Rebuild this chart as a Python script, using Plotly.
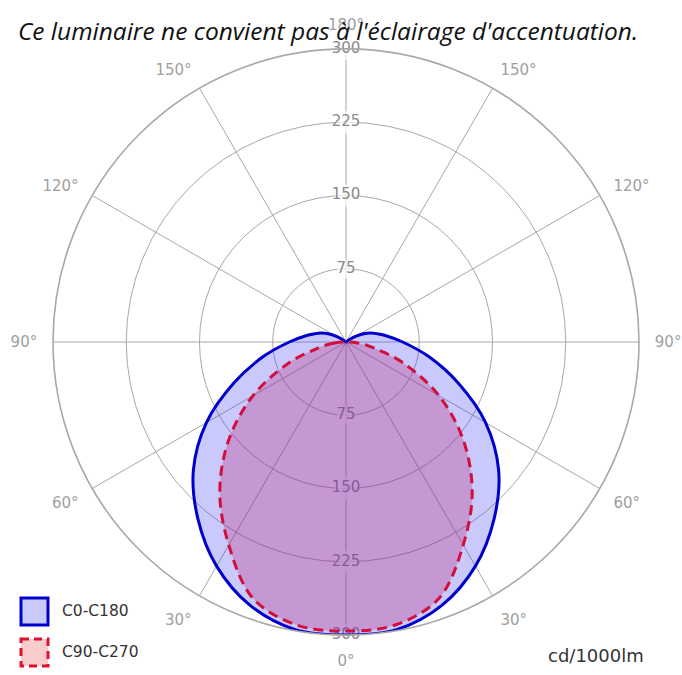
import plotly.graph_objects as go

# ---- data ----
title_text = "Ce luminaire ne convient pas à l'éclairage d'accentuation."
unit_text = "cd/1000lm"

c0_angles = [0, 10, 20, 30, 40, 50, 60, 70, 80, 90, 100, 105, 110, 115, 120, 125, 128]
c0_values = [300, 299, 287, 265, 236, 204, 165, 122, 86, 58, 40, 33, 27, 20, 12, 4, 0]

c90_angles = [0, 10, 20, 30, 40, 50, 60, 70, 76, 80, 85, 90]
c90_values = [296, 294, 279, 240, 201, 157, 110, 62, 35, 24, 12, 0]

series_names = ["C0-C180", "C90-C270"]

radial_ticks = [75, 150, 225, 300]
angle_tickvals = [0, 30, 60, 90, 120, 150, 180, 210, 240, 270, 300, 330]
angle_ticktext = ["0°", "30°", "60°", "90°", "120°", "150°", "180°",
                  "150°", "120°", "90°", "60°", "30°"]


def mirror(angles, values):
    th = [-a for a in reversed(angles)] + list(angles[1:])
    rr = list(reversed(values)) + list(values[1:])
    return th, rr


W, H = 682, 675
cx, cy, R = 346, 342, 293

blue_fill = "rgba(40,40,245,0.25)"
red_fill = "rgba(190,40,120,0.30)"

fig = go.Figure()

# radial value labels along the vertical axis (drawn beneath the fills)
lab_theta = [180] * len(radial_ticks) + [0] * len(radial_ticks)
lab_r = radial_ticks + radial_ticks
lab_txt = [str(v) for v in lab_r]
fig.add_trace(go.Scatterpolar(
    r=lab_r, theta=lab_theta, text=lab_txt, mode="markers+text",
    textposition="middle center",
    textfont=dict(family="DejaVu Sans", size=15, color="#8a8a8a"),
    marker=dict(symbol="square", size=[18 if v < 100 else 22 for v in lab_r],
                color="white", line=dict(width=0)),
    cliponaxis=False, showlegend=False, hoverinfo="skip"))

th, rr = mirror(c0_angles, c0_values)
fig.add_trace(go.Scatterpolar(
    r=rr, theta=th, name=series_names[0], mode="lines", fill="toself",
    fillcolor=blue_fill,
    line=dict(color="#0000CD", width=3, shape="spline", smoothing=1.0),
    showlegend=False))

th, rr = mirror(c90_angles, c90_values)
fig.add_trace(go.Scatterpolar(
    r=rr, theta=th, name=series_names[1], mode="lines", fill="toself",
    fillcolor=red_fill,
    line=dict(color="#D0103A", width=3, dash="10px,6px", shape="spline",
              smoothing=1.0),
    showlegend=False))

grid_col = "#a8a8a8"
fig.update_layout(
    width=W, height=H,
    margin=dict(l=0, r=0, t=0, b=0),
    paper_bgcolor="white",
    showlegend=False,
    polar=dict(
        domain=dict(x=[(cx - R) / W, (cx + R) / W],
                    y=[(H - cy - R) / H, (H - cy + R) / H]),
        bgcolor="white",
        radialaxis=dict(range=[0, 300], tickvals=radial_ticks,
                        showticklabels=False, ticks="", showline=False,
                        gridcolor=grid_col, gridwidth=1.3),
        angularaxis=dict(rotation=-90, direction="counterclockwise",
                         tickmode="array", tickvals=angle_tickvals,
                         ticktext=angle_ticktext,
                         ticks="outside", ticklen=12,
                         tickcolor="rgba(0,0,0,0)",
                         tickfont=dict(family="DejaVu Sans", size=15, color="#a0a0a0"),
                         showline=True, linecolor=grid_col, linewidth=1.6,
                         gridcolor=grid_col, gridwidth=1.3),
    ),
    title=dict(text=title_text, x=328 / W, xanchor="center",
               y=1 - 31 / H, yanchor="middle",
               font=dict(family="Open Sans", size=24.5, color="#111111",
                         style="italic")),
)


def px_x(x):
    return x / W


def px_y(y):
    return 1 - y / H


# custom legend (square swatches like the reference)
fig.add_shape(type="rect", xref="paper", yref="paper",
              x0=px_x(21), x1=px_x(48), y0=px_y(598), y1=px_y(625),
              fillcolor="rgba(40,40,245,0.25)",
              line=dict(color="#0000CD", width=3))
fig.add_shape(type="rect", xref="paper", yref="paper",
              x0=px_x(21), x1=px_x(48), y0=px_y(639), y1=px_y(666),
              fillcolor="rgba(240,90,90,0.3)",
              line=dict(color="#E0102A", width=3, dash="8px,5px"))
fig.add_annotation(x=px_x(60), y=px_y(611), xref="paper", yref="paper",
                   text=series_names[0], showarrow=False, xanchor="left",
                   yanchor="middle",
                   font=dict(family="DejaVu Sans", size=15.5, color="#333333"))
fig.add_annotation(x=px_x(60), y=px_y(652), xref="paper", yref="paper",
                   text=series_names[1], showarrow=False, xanchor="left",
                   yanchor="middle",
                   font=dict(family="DejaVu Sans", size=15.5, color="#333333"))
fig.add_annotation(x=px_x(646), y=px_y(655), xref="paper", yref="paper",
                   text=unit_text, showarrow=False, xanchor="right",
                   yanchor="middle",
                   font=dict(family="DejaVu Sans", size=18, color="#333333"))

fig.write_html("out.html", config={"displayModeBar": False},
               post_script="document.body.style.margin='0px';")
